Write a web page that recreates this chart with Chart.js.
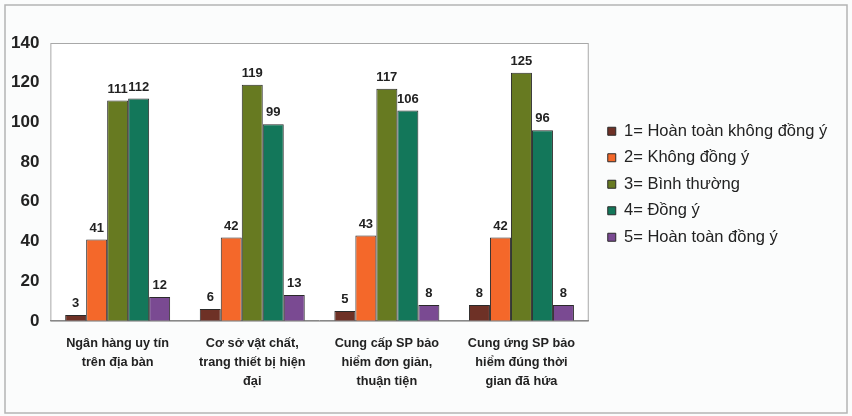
<!DOCTYPE html>
<html>
<head>
<meta charset="utf-8">
<script src="https://cdn.jsdelivr.net/npm/chart.js@4"></script>
<style>
  html, body { margin: 0; padding: 0; background: #fbfcfc; }
  #wrap { width: 852px; height: 416px; position: relative; }
</style>
</head>
<body>
<div id="wrap"><canvas id="barChart" width="852" height="416"></canvas></div>
<script>
// Categories (multi-line labels as on the x axis)
const categories = [
    ['Ngân hàng uy tín', 'trên địa bàn'],
    ['Cơ sở vật chất,', 'trang thiết bị hiện', 'đại'],
    ['Cung cấp SP bảo', 'hiểm đơn giản,', 'thuận tiện'],
    ['Cung ứng SP bảo', 'hiểm đúng thời', 'gian đã hứa']
];

// Series names and values
const seriesNames = [
    '1= Hoàn toàn không đồng ý',
    '2= Không đồng ý',
    '3= Bình thường',
    '4= Đồng ý',
    '5= Hoàn toàn đồng ý'
];
const level1 = [3, 6, 5, 8];
const level2 = [41, 42, 43, 42];
const level3 = [111, 119, 117, 125];
const level4 = [112, 99, 106, 96];
const level5 = [12, 13, 8, 8];

const yTicks = [0, 20, 40, 60, 80, 100, 120, 140];

const seriesColors = ['#6e3126', '#f4682a', '#677a21', '#13775a', '#7a4a92'];

const FONT = 'Arial, "Liberation Sans", sans-serif';

// Draws the value above each bar
const valueLabels = {
    id: 'valueLabels',
    afterDatasetsDraw(chart) {
        const ctx = chart.ctx;
        ctx.save();
        ctx.font = 'bold 13px ' + FONT;
        ctx.fillStyle = '#222';
        ctx.textAlign = 'center';
        ctx.textBaseline = 'bottom';
        chart.data.datasets.forEach((ds, i) => {
            const meta = chart.getDatasetMeta(i);
            meta.data.forEach((bar, j) => {
                ctx.fillText(String(ds.data[j]), bar.x, bar.y - 5);
            });
        });
        ctx.restore();
    }
};

// Plot area border and outer frame
const frames = {
    id: 'frames',
    beforeDraw(chart) {
        const ctx = chart.ctx;
        const a = chart.chartArea;
        ctx.save();
        ctx.fillStyle = '#ffffff';
        ctx.fillRect(a.left, a.top, a.right - a.left, a.bottom - a.top);
        ctx.strokeStyle = '#a8a8a8';
        ctx.lineWidth = 1;
        ctx.strokeRect(a.left + 0.5, a.top + 0.5, a.right - a.left - 1, a.bottom - a.top);
        ctx.strokeStyle = '#b4b4b4';
        ctx.lineWidth = 1.5;
        ctx.strokeRect(5, 5, chart.width - 10, chart.height - 8);
        ctx.restore();
    }
};

// Place the legend block: small gap from the plot, wide enough for the longest label
const legendPlace = {
    id: 'legendPlace',
    afterLayout(chart) {
        const lg = chart.legend;
        lg.left = chart.chartArea.right + 9;
        lg.right = lg.left + 240;
        lg.width = 240;
        const h = lg.height;
        lg.top = 113;
        lg.bottom = lg.top + h;
    }
};

const ctx = document.getElementById('barChart');
new Chart(ctx, {
    type: 'bar',
    data: {
        labels: categories,
        datasets: [level1, level2, level3, level4, level5].map((vals, i) => ({
            label: seriesNames[i],
            data: vals,
            backgroundColor: seriesColors[i],
            borderColor: '#2a2a2a',
            borderWidth: 1,
            categoryPercentage: 0.78,
            barPercentage: 1.0
        }))
    },
    options: {
        responsive: false,
        animation: false,
        layout: {
            padding: { top: 43, left: 0, right: 67, bottom: 12 }
        },
        scales: {
            x: {
                grid: { display: false, drawTicks: false },
                border: { display: true, color: '#888' },
                ticks: {
                    color: '#222',
                    padding: 13,
                    font: { family: FONT, size: 12.7, weight: 'bold', lineHeight: 1.5 },
                    maxRotation: 0,
                    autoSkip: false
                }
            },
            y: {
                min: 0,
                max: 140,
                afterBuildTicks(axis) {
                    axis.ticks = yTicks.map(v => ({ value: v }));
                },
                grid: { display: false, drawTicks: false },
                border: { display: false },
                ticks: {
                    color: '#222',
                    padding: 11,
                    font: { family: FONT, size: 17, weight: 'bold' }
                }
            }
        },
        plugins: {
            legend: {
                position: 'right',
                align: 'start',
                labels: {
                    boxWidth: 8,
                    boxHeight: 8,
                    padding: 10,
                    color: '#222',
                    font: { family: FONT, size: 16.5 }
                }
            },
            tooltip: { enabled: false }
        }
    },
    plugins: [frames, legendPlace, valueLabels]
});
</script>
</body>
</html>
